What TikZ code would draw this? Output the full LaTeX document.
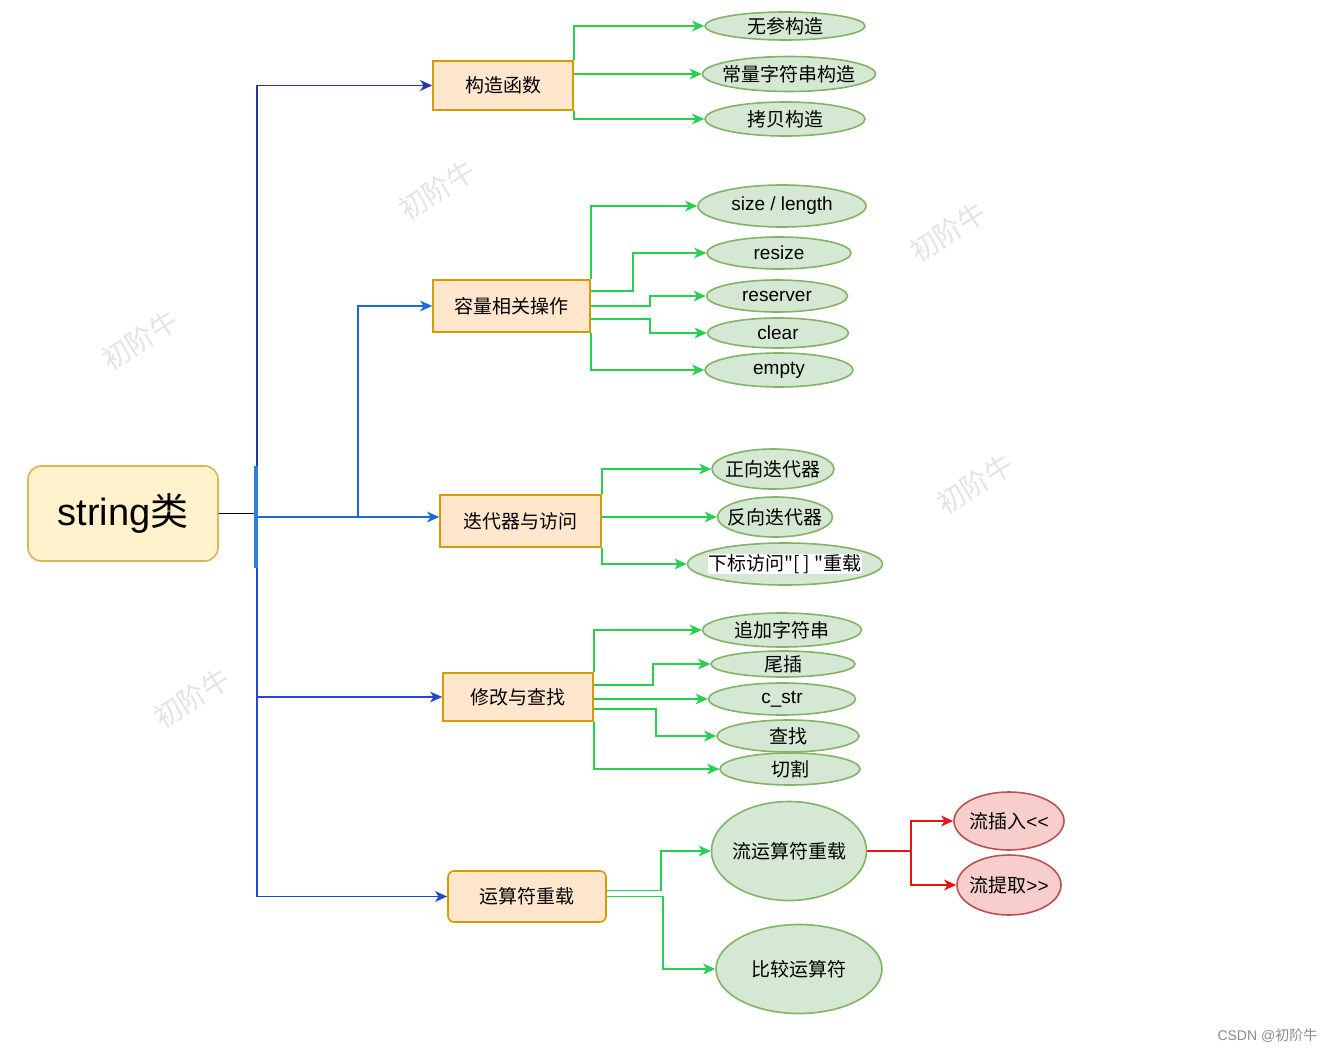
\documentclass[tikz,border=0pt]{standalone}
\usepackage{fontspec}
\setmainfont{Liberation Sans}
\newfontfamily\cjk{Noto Sans CJK SC}
\usetikzlibrary{shapes.geometric,arrows.meta,calc}
\definecolor{boxf}{HTML}{FFE6CC}
\definecolor{boxd}{HTML}{D79B00}
\definecolor{rootf}{HTML}{FFF2CC}
\definecolor{rootd}{HTML}{D6B656}
\definecolor{leaff}{HTML}{D5E8D4}
\definecolor{leafd}{HTML}{82B366}
\definecolor{redf}{HTML}{F8CECC}
\definecolor{redd}{HTML}{B85450}
\definecolor{lgreen}{RGB}{40,208,80}
\definecolor{lred}{RGB}{230,20,20}
\definecolor{navy}{RGB}{38,52,180}
\definecolor{mblue}{RGB}{30,105,220}
\definecolor{bblue}{RGB}{36,70,215}
\definecolor{barblue}{RGB}{45,125,225}
\definecolor{wm}{RGB}{225,228,232}
\newcommand\zw[1]{\makebox[0pt][c]{#1}}
\begin{document}
\begin{tikzpicture}[x=0.75pt,y=-0.75pt,
  font=\fontsize{14.25pt}{16pt}\selectfont,
  sz/.style 2 args={minimum width=#1*0.75pt, minimum height=#2*0.75pt},
  box/.style={draw=boxd, fill=boxf, line width=1.2pt, inner sep=0pt},
  leaf/.style={ellipse, draw=leafd, fill=leaff, line width=1.2pt, inner sep=0pt},
  redleaf/.style={ellipse, draw=redd, fill=redf, line width=1.2pt, inner sep=0pt},
  tip/.style={-{Stealth[length=9pt,width=8pt,inset=2.5pt]}},
  garr/.style={tip, draw=lgreen, line width=1.4pt},
  rarr/.style={tip, draw=lred, line width=1.4pt},
  barr/.style={tip, draw=#1, line width=1.4pt},
  wmark/.style={text=wm, rotate=32, font=\cjk\fontsize{21pt}{22pt}\selectfont}
]
\useasboundingbox (0,0) rectangle (1335,1052);
\fill[white] (0,0) rectangle (1335,1052);

% watermarks
\node[wmark] (w1) at (437,190) {初阶牛};
\node[wmark] (w2) at (948,232) {初阶牛};
\node[wmark] (w3) at (140,340) {初阶牛};
\node[wmark] (w4) at (975,484) {初阶牛};
\node[wmark] (w5) at (192,698) {初阶牛};
\node[anchor=east, text=black!45, font=\fontsize{10.5pt}{12pt}\selectfont] (csdn) at (1322,1036) {CSDN @{\cjk 初阶牛}};

% root
\node[box, rounded corners=10pt, draw=rootd, fill=rootf, sz={190}{95}, font=\fontsize{28.5pt}{30pt}\selectfont] (root) at (123,513.5) {string{\cjk 类}};

% category boxes
\node[box, sz={140}{49}] (ctor) at (503,85.5) {\cjk 构造函数};
\node[box, sz={157}{52}] (cap) at (511.5,306) {\cjk 容量相关操作};
\node[box, sz={161}{52}] (iter) at (520.5,521) {\cjk 迭代器与访问};
\node[box, sz={150}{48}] (mod) at (518,697) {\cjk 修改与查找};
\node[box, rounded corners=4.5pt, sz={158}{51}] (op) at (527,896.5) {\cjk 运算符重载};

% leaves
\node[leaf, sz={160}{28}] (c1) at (785,26) {\zw{\cjk 无参构造}};
\node[leaf, sz={173}{35}] (c2) at (789,74) {\zw{\cjk 常量字符串构造}};
\node[leaf, sz={160}{34}] (c3) at (785,119) {\zw{\cjk 拷贝构造}};

\node[leaf, sz={168}{42}] (s1) at (782,206) {\zw{size / length}};
\node[leaf, sz={144}{32}] (s2) at (779,253) {\zw{resize}};
\node[leaf, sz={141}{32}] (s3) at (777,296) {\zw{reserver}};
\node[leaf, sz={141}{30}] (s4) at (778,333) {\zw{clear}};
\node[leaf, sz={148}{34}] (s5) at (779,370) {\zw{empty}};

\node[leaf, sz={122}{40}] (i1) at (773,469) {\zw{\cjk 正向迭代器}};
\node[leaf, sz={115}{40}] (i2) at (775,517) {\zw{\cjk 反向迭代器}};
\node[leaf, sz={195}{42}] (i3) at (785,564) {\zw{\setlength{\fboxsep}{0pt}\colorbox{white}{\cjk 下标访问"[ ] "重载}}};

\node[leaf, sz={159}{34}] (m1) at (782,630) {\zw{\cjk 追加字符串}};
\node[leaf, sz={144}{26}] (m2) at (783,664) {\zw{\cjk 尾插}};
\node[leaf, sz={147}{32}] (m3) at (782,699) {\zw{c\_str}};
\node[leaf, sz={142}{32}] (m4) at (788,736) {\zw{\cjk 查找}};
\node[leaf, sz={140}{32}] (m5) at (790,769) {\zw{\cjk 切割}};

\node[leaf, sz={155}{99}] (o1) at (789,851) {\zw{\cjk 流运算符重载}};
\node[leaf, sz={166}{89}] (o2) at (799,969) {\zw{\cjk 比较运算符}};

\node[redleaf, sz={110}{58}] (r1) at (1009,821) {\zw{{\cjk 流插入}<\kern0pt<}};
\node[redleaf, sz={104}{60}] (r2) at (1009,885) {\zw{{\cjk 流提取}>\kern0pt>}};

% trunk
\coordinate (j) at (257,517);
\coordinate (jc) at (358,517);
\draw[line width=1.2pt, black] (root.east) -- (root.east -| j);
\draw[barr=navy] (j) |- (ctor);
\draw[barr=mblue] (j) -- (j -| iter.west);
\draw[barr=bblue] (j) |- (mod);
\draw[barr=bblue] (j) |- (op);
\draw[barr=mblue] (jc) |- (cap);
\draw[line width=2.4pt, barblue] (256,466) -- (256,568);

% constructor branch
\draw[garr] (ctor.north east) |- (c1);
\draw[garr] (ctor.east |- c2) -- (c2);
\draw[garr] (ctor.south east) |- (c3);

% capacity branch
\draw[garr] (cap.north east) |- (s1);
\draw[garr] ($(cap.east)+(0,-15)$) -- ++(42,0) |- (s2);
\draw[garr] (cap.east) -- ++(59,0) |- (s3);
\draw[garr] ($(cap.east)+(0,13)$) -- ++(59,0) |- (s4);
\draw[garr] (cap.south east) |- (s5);

% iterator branch
\draw[garr] (iter.north east) |- (i1);
\draw[garr] (iter.east |- i2) -- (i2);
\draw[garr] (iter.south east) |- (i3);

% modify branch
\draw[garr] (mod.north east) |- (m1);
\draw[garr] ($(mod.east)+(0,-12)$) -- ++(59,0) |- (m2);
\draw[garr] (mod.east |- m3) -- (m3);
\draw[garr] ($(mod.east)+(0,12)$) -- ++(62,0) |- (m4);
\draw[garr] (mod.south east) |- (m5);

% operator branch
\draw[garr] ($(op.east)+(0,-6)$) -- ++(54,0) |- (o1);
\draw[garr] (op.east) -- ++(56,0) |- (o2);
\draw[rarr] (o1.east) -- ++(44,0) |- (r1);
\draw[rarr] (o1.east) -- ++(44,0) |- (r2);
\end{tikzpicture}
\end{document}
